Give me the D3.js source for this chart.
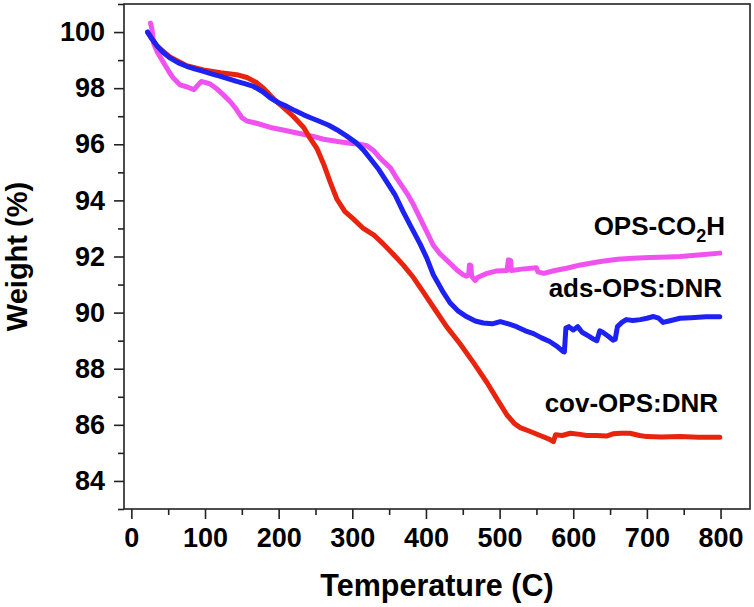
<!DOCTYPE html>
<html>
<head>
<meta charset="utf-8">
<script src="https://cdn.jsdelivr.net/npm/d3@7"></script>
<style>
  html, body { margin: 0; padding: 0; background: #fff; }
  svg { display: block; font-family: "Liberation Sans", Arial, sans-serif; }
</style>
</head>
<body>
<svg id="chart" width="754" height="607"></svg>
<script>
// ---- data ----
const seriesNames = ["OPS-CO2H", "cov-OPS:DNR", "ads-OPS:DNR"];

const tempOPS = [26,28,30,35,44,52,57,66,75,85,90,95,101,107,115,125,135,143,150,157,170,189,211,225,247,261,280,297,310,320,330,338,352,360,374,383,397,410,419,433,442,451,455,458,459,461,462,465,467,470,483,495,510,512,515,516,530,550,552,560,575,591,610,637,660,681,704,730,745,770,799];
const weightOPS = [100.32,100.1,99.62,99.3,98.9,98.55,98.36,98.12,98.05,97.95,98.1,98.24,98.2,98.15,98.0,97.76,97.5,97.23,96.95,96.83,96.75,96.6,96.48,96.4,96.28,96.18,96.1,96.04,96.0,95.95,95.75,95.5,95.15,94.8,94.26,93.85,93.1,92.4,92.1,91.75,91.52,91.34,91.3,91.35,91.7,91.68,91.3,91.2,91.15,91.25,91.4,91.48,91.5,91.88,91.85,91.5,91.55,91.6,91.45,91.4,91.5,91.58,91.7,91.82,91.9,91.94,91.96,91.98,92.0,92.05,92.12];

const tempCov = [22,35,53,75,98,121,143,157,170,180,193,207,220,234,243,252,261,270,279,290,301,315,330,342,355,369,383,396,410,428,446,465,483,497,510,520,528,540,555,568,573,576,585,596,609,618,632,645,654,665,677,690,700,720,745,770,799];
const weightCov = [100.0,99.5,99.1,98.8,98.65,98.55,98.48,98.38,98.2,97.98,97.62,97.3,96.99,96.6,96.2,95.85,95.3,94.65,94.05,93.6,93.35,93.0,92.75,92.45,92.1,91.7,91.25,90.75,90.2,89.5,88.9,88.2,87.5,86.9,86.35,86.05,85.9,85.78,85.62,85.48,85.4,85.65,85.62,85.7,85.66,85.62,85.62,85.6,85.68,85.7,85.7,85.62,85.58,85.57,85.58,85.56,85.56];

const tempAds = [22,28,35,44,53,64,75,87,98,110,121,132,143,155,166,178,189,200,211,222,234,245,256,268,279,292,306,315,324,336,347,358,369,380,392,401,410,424,433,444,455,467,478,490,501,512,523,535,546,557,568,578,586,588,590,594,600,606,612,620,628,632,636,640,648,654,657,660,666,672,681,691,700,709,716,722,730,745,760,780,799];
const weightAds = [100.0,99.75,99.5,99.25,99.07,98.9,98.78,98.68,98.6,98.5,98.42,98.33,98.24,98.15,98.06,97.88,97.65,97.48,97.35,97.2,97.05,96.93,96.81,96.68,96.52,96.3,96.04,95.8,95.5,95.1,94.65,94.2,93.6,93.05,92.45,91.95,91.35,90.7,90.34,90.05,89.86,89.7,89.63,89.6,89.68,89.6,89.5,89.35,89.25,89.1,88.97,88.8,88.62,88.6,89.45,89.5,89.38,89.5,89.3,89.18,89.05,89.0,89.35,89.3,89.15,89.02,89.05,89.5,89.65,89.75,89.72,89.75,89.8,89.86,89.8,89.65,89.7,89.8,89.82,89.85,89.85];

const xMajorTicks = [0,100,200,300,400,500,600,700,800];
const xMinorTicks = [50,150,250,350,450,550,650,750];
const yMajorTicks = [84,86,88,90,92,94,96,98,100];
const yMinorTicks = [83,85,87,89,91,93,95,97,99,101];

// ---- drawing ----
const svg = d3.select("#chart");
const plot = { left: 124, right: 750, top: 4, bottom: 509 };

const x = d3.scaleLinear().domain([-10, 840]).range([plot.left, plot.right]);
const y = d3.scaleLinear().domain([83, 101]).range([plot.bottom, plot.top]);

const colors = { ops: "#f052f0", cov: "#e8240e", ads: "#1d22f2" };

const line = d3.line().x(d => x(d[0])).y(d => y(d[1])).curve(d3.curveLinear);
const zip = (a, b) => a.map((t, i) => [t, b[i]]);

const series = [
  { key: "ops", data: zip(tempOPS, weightOPS) },
  { key: "cov", data: zip(tempCov, weightCov) },
  { key: "ads", data: zip(tempAds, weightAds) }
];

svg.append("g").selectAll("path").data(series).join("path")
  .attr("d", d => line(d.data))
  .attr("fill", "none")
  .attr("stroke", d => colors[d.key])
  .attr("stroke-width", 5)
  .attr("stroke-linejoin", "round")
  .attr("stroke-linecap", "round");

// frame
svg.append("rect")
  .attr("x", plot.left).attr("y", plot.top)
  .attr("width", plot.right - plot.left).attr("height", plot.bottom - plot.top)
  .attr("fill", "none").attr("stroke", "#222").attr("stroke-width", 1.6);

// axes
const tickFont = g => g.selectAll("text")
  .attr("font-family", "'Liberation Sans', Arial, sans-serif")
  .attr("font-weight", "bold").attr("font-size", 27).attr("fill", "#000");

const xAxis = svg.append("g").attr("transform", `translate(0,${plot.bottom})`)
  .call(d3.axisBottom(x).tickValues(xMajorTicks).tickSize(10).tickPadding(9).tickSizeOuter(0).tickFormat(d3.format("d")));
xAxis.call(tickFont);
xAxis.select(".domain").remove();
xAxis.selectAll("line").attr("stroke", "#222").attr("stroke-width", 1.6);

const xMinor = svg.append("g").attr("transform", `translate(0,${plot.bottom})`)
  .call(d3.axisBottom(x).tickValues(xMinorTicks).tickSize(6).tickSizeOuter(0).tickFormat(""));
xMinor.select(".domain").remove();
xMinor.selectAll("line").attr("stroke", "#222").attr("stroke-width", 1.6);

const yAxis = svg.append("g").attr("transform", `translate(${plot.left},0)`)
  .call(d3.axisLeft(y).tickValues(yMajorTicks).tickSize(10).tickPadding(9).tickSizeOuter(0).tickFormat(d3.format("d")));
yAxis.call(tickFont);
yAxis.select(".domain").remove();
yAxis.selectAll("line").attr("stroke", "#222").attr("stroke-width", 1.6);

const yMinor = svg.append("g").attr("transform", `translate(${plot.left},0)`)
  .call(d3.axisLeft(y).tickValues(yMinorTicks).tickSize(6).tickSizeOuter(0).tickFormat(""));
yMinor.select(".domain").remove();
yMinor.selectAll("line").attr("stroke", "#222").attr("stroke-width", 1.6);

// axis titles
svg.append("text")
  .attr("x", (plot.left + plot.right) / 2).attr("y", 596)
  .attr("text-anchor", "middle").attr("font-weight", "bold").attr("font-size", 30.5)
  .text("Temperature (C)");

svg.append("text")
  .attr("transform", `translate(27,${(plot.top + plot.bottom) / 2}) rotate(-90)`)
  .attr("text-anchor", "middle").attr("font-weight", "bold").attr("font-size", 29)
  .text("Weight (%)");

// series labels
const lab1 = svg.append("text")
  .attr("x", 725).attr("y", 235).attr("text-anchor", "end")
  .attr("font-weight", "bold").attr("font-size", 26);
lab1.append("tspan").text("OPS-CO");
lab1.append("tspan").attr("font-size", 18).attr("dy", 7).text("2");
lab1.append("tspan").attr("dy", -7).text("H");

svg.append("text")
  .attr("x", 722).attr("y", 297).attr("text-anchor", "end")
  .attr("font-weight", "bold").attr("font-size", 26).text(seriesNames[2]);

svg.append("text")
  .attr("x", 718).attr("y", 412).attr("text-anchor", "end")
  .attr("font-weight", "bold").attr("font-size", 26).text(seriesNames[1]);
</script>
</body>
</html>
